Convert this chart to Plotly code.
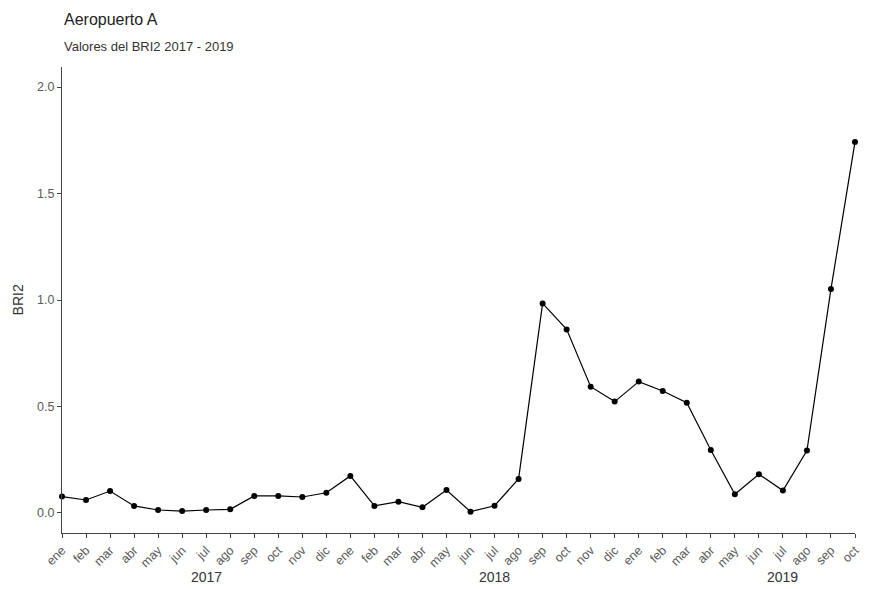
import plotly.graph_objects as go

# Monthly BRI2 values, Jan 2017 - Oct 2019
months = ["ene", "feb", "mar", "abr", "may", "jun", "jul", "ago", "sep", "oct", "nov", "dic"]
years = ["2017", "2018", "2019"]
month_labels = months * 2 + months[:10]
bri2 = [
    0.077, 0.061, 0.103, 0.033, 0.014, 0.009, 0.014, 0.017, 0.080, 0.080, 0.075, 0.095,
    0.174, 0.033, 0.053, 0.027, 0.108, 0.006, 0.034, 0.160, 0.984, 0.862, 0.593, 0.523,
    0.617, 0.573, 0.518, 0.296, 0.088, 0.182, 0.105, 0.293, 1.052, 1.742,
]
idx = list(range(len(bri2)))
year_pos = [6, 18, 30]  # year labels sit under July of each year

fig = go.Figure()
fig.add_trace(go.Scatter(
    x=idx, y=bri2, mode="lines+markers",
    line=dict(color="black", width=1.2),
    marker=dict(color="black", size=6),
    cliponaxis=False, showlegend=False,
))

FONT = "Liberation Sans, Arial, sans-serif"
tick_font = dict(family=FONT, size=12.5, color="#5a5a5a")
fig.update_xaxes(
    range=[0, len(bri2) - 1], tickvals=idx, ticktext=month_labels, tickangle=-45,
    showgrid=False, zeroline=False, showline=True, linecolor="#444444", linewidth=1.2,
    ticks="outside", ticklen=4, tickcolor="#444444", tickfont=tick_font,
)
fig.update_yaxes(
    range=[-0.094, 2.094], tickvals=[0, 0.5, 1.0, 1.5, 2.0],
    ticktext=["0.0", "0.5", "1.0", "1.5", "2.0"],
    showgrid=False, zeroline=False, showline=True, linecolor="#444444", linewidth=1.2,
    ticks="outside", ticklen=4, tickcolor="#444444", tickfont=tick_font,
)

ann = []
for y, p in zip(years, year_pos):
    ann.append(dict(x=p, y=-0.094, xref="x", yref="paper", text=y, showarrow=False,
                    xanchor="center", yanchor="middle",
                    font=dict(family=FONT, size=14, color="#333333")))
ann.append(dict(x=0, y=1.1009, xref="paper", yref="paper", text="Aeropuerto A", showarrow=False,
                xanchor="left", yanchor="middle",
                font=dict(family=FONT, size=16, color="#222222")))
ann.append(dict(x=0, y=1.043, xref="paper", yref="paper", text="Valores del BRI2 2017 - 2019",
                showarrow=False, xanchor="left", yanchor="middle",
                font=dict(family=FONT, size=13, color="#333333")))
ann.append(dict(x=-0.055, y=0.5, xref="paper", yref="paper", text="BRI2", showarrow=False,
                textangle=-90, xanchor="center", yanchor="middle",
                font=dict(family=FONT, size=14, color="#333333")))

fig.update_layout(
    width=874, height=589,
    margin=dict(l=62, r=12, t=67, b=56),
    plot_bgcolor="white", paper_bgcolor="white",
    annotations=ann,
)

fig.write_html("out.html")
